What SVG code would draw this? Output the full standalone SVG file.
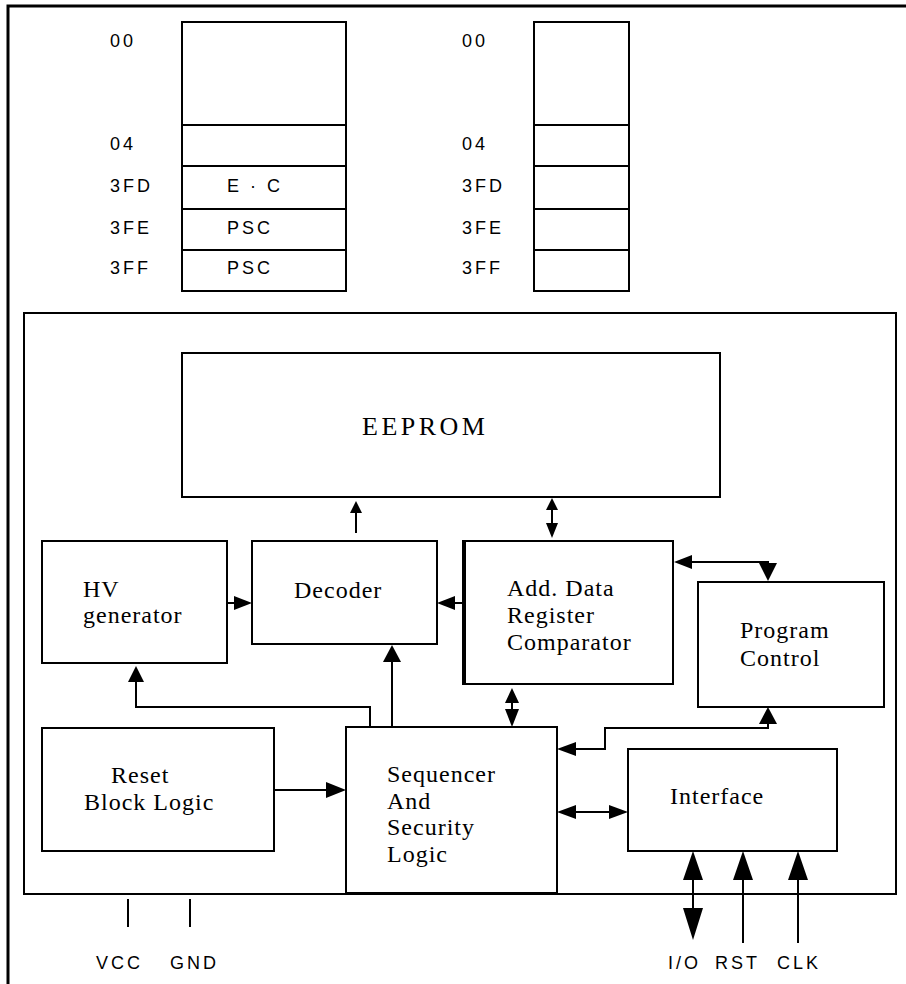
<svg xmlns="http://www.w3.org/2000/svg" width="906" height="984" viewBox="0 0 906 984">
<style>
.bg{fill:#ffffff}
.box{fill:none;stroke:#000;stroke-width:2}
.frame{fill:none;stroke:#000;stroke-width:3}
.ln{fill:none;stroke:#000;stroke-width:2}
.ah{fill:#000;stroke:none}
.sans{font-family:"Liberation Sans",Arial,sans-serif;font-size:18px;letter-spacing:3px;fill:#000}
.serif{font-family:"Liberation Serif","Times New Roman",serif;font-size:24px;letter-spacing:1px;fill:#000}
.big{font-family:"Liberation Serif","Times New Roman",serif;font-size:26px;letter-spacing:3.5px;fill:#000}
</style>
<rect class="bg" x="0" y="0" width="906" height="984"/>
<rect class="frame" x="8" y="6" width="910" height="990"/>

<g id="memory-map-left">
<rect class="box" x="182" y="22" width="164" height="269"/>
<line class="ln" x1="182" y1="125" x2="346" y2="125"/>
<line class="ln" x1="182" y1="166" x2="346" y2="166"/>
<line class="ln" x1="182" y1="209" x2="346" y2="209"/>
<line class="ln" x1="182" y1="250" x2="346" y2="250"/>
<text class="sans" x="110" y="47">00</text>
<text class="sans" x="110" y="150">04</text>
<text class="sans" x="110" y="192">3FD</text>
<text class="sans" x="110" y="234">3FE</text>
<text class="sans" x="110" y="274">3FF</text>
<text class="sans" x="227" y="192">E · C</text>
<text class="sans" x="227" y="234">PSC</text>
<text class="sans" x="227" y="274">PSC</text>
</g>

<g id="memory-map-right">
<rect class="box" x="534" y="22" width="95" height="269"/>
<line class="ln" x1="534" y1="125" x2="629" y2="125"/>
<line class="ln" x1="534" y1="166" x2="629" y2="166"/>
<line class="ln" x1="534" y1="209" x2="629" y2="209"/>
<line class="ln" x1="534" y1="250" x2="629" y2="250"/>
<text class="sans" x="462" y="47">00</text>
<text class="sans" x="462" y="150">04</text>
<text class="sans" x="462" y="192">3FD</text>
<text class="sans" x="462" y="234">3FE</text>
<text class="sans" x="462" y="274">3FF</text>
</g>

<g id="chip">
<rect class="box" x="24" y="313" width="872" height="581"/>
</g>

<g id="eeprom">
<rect class="box" x="182" y="353" width="538" height="144"/>
<text class="big" x="362" y="435">EEPROM</text>
</g>

<g id="hv-generator">
<rect class="box" x="42" y="541" width="185" height="122"/>
<text class="serif" x="83" y="597">HV</text>
<text class="serif" x="83" y="623">generator</text>
</g>

<g id="decoder">
<rect class="box" x="252" y="541" width="185" height="103"/>
<text class="serif" x="294" y="598">Decoder</text>
</g>

<g id="add-data-register">
<rect class="box" x="463" y="541" width="210" height="143"/>
<line x1="464" y1="540" x2="464" y2="685" stroke="#000" stroke-width="4"/>
<text class="serif" x="507" y="596">Add. Data</text>
<text class="serif" x="507" y="623">Register</text>
<text class="serif" x="507" y="650">Comparator</text>
</g>

<g id="program-control">
<rect class="box" x="698" y="582" width="186" height="125"/>
<text class="serif" x="740" y="638">Program</text>
<text class="serif" x="740" y="666">Control</text>
</g>

<g id="reset-block-logic">
<rect class="box" x="42" y="728" width="232" height="123"/>
<text class="serif" x="111" y="783">Reset</text>
<text class="serif" x="84" y="810">Block Logic</text>
</g>

<g id="sequencer">
<rect class="box" x="346" y="727" width="211" height="166"/>
<text class="serif" x="387" y="782">Sequencer</text>
<text class="serif" x="387" y="809">And</text>
<text class="serif" x="387" y="835">Security</text>
<text class="serif" x="387" y="862">Logic</text>
</g>

<g id="interface">
<rect class="box" x="628" y="749" width="209" height="102"/>
<text class="serif" x="670" y="804">Interface</text>
</g>

<g id="pins">
<text class="sans" x="96" y="969">VCC</text>
<text class="sans" x="170" y="969">GND</text>
<text class="sans" x="668" y="969">I/O</text>
<text class="sans" x="715" y="969">RST</text>
<text class="sans" x="777" y="969">CLK</text>
</g>

<g id="connectors">
<!-- Decoder -> EEPROM -->
<line class="ln" x1="356" y1="512" x2="356" y2="533"/>
<polygon class="ah" points="356,501 350,513 362,513"/>
<!-- EEPROM <-> Add Data -->
<line class="ln" x1="552" y1="508" x2="552" y2="526"/>
<polygon class="ah" points="552,498 546,510 558,510"/>
<polygon class="ah" points="552,538 546,523 558,523"/>
<!-- HV -> Decoder -->
<line class="ln" x1="227" y1="603" x2="236" y2="603"/>
<polygon class="ah" points="252,603 234,596 234,610"/>
<!-- Add Data -> Decoder -->
<line class="ln" x1="453" y1="603" x2="463" y2="603"/>
<polygon class="ah" points="437,603 455,596 455,610"/>
<!-- Add Data <-> Program Control -->
<polyline class="ln" points="688,562 768,562 768,566"/>
<polygon class="ah" points="674,562 692,555 692,569"/>
<polygon class="ah" points="768,581 759,563 777,563"/>
<!-- Sequencer -> HV -->
<polyline class="ln" points="370,727 370,707 136,707 136,680"/>
<polygon class="ah" points="136,666 128,682 144,682"/>
<!-- Sequencer -> Decoder -->
<line class="ln" x1="392" y1="727" x2="392" y2="660"/>
<polygon class="ah" points="392,645 383,662 401,662"/>
<!-- Add Data <-> Sequencer -->
<line class="ln" x1="512" y1="700" x2="512" y2="712"/>
<polygon class="ah" points="512,688 505,703 519,703"/>
<polygon class="ah" points="512,727 505,709 519,709"/>
<!-- Program Control -> Sequencer -->
<polyline class="ln" points="768,722 768,728 605,728 605,749 574,749"/>
<polygon class="ah" points="768,707 759,724 777,724"/>
<polygon class="ah" points="557,749 576,742 576,756"/>
<!-- Reset -> Sequencer -->
<line class="ln" x1="274" y1="790" x2="330" y2="790"/>
<polygon class="ah" points="346,790 326,782 326,798"/>
<!-- Sequencer <-> Interface -->
<line class="ln" x1="574" y1="812" x2="612" y2="812"/>
<polygon class="ah" points="557,812 576,805 576,819"/>
<polygon class="ah" points="628,812 609,805 609,819"/>
<!-- I/O -->
<line class="ln" x1="693" y1="876" x2="693" y2="912"/>
<polygon class="ah" points="693,851 683,880 703,880"/>
<polygon class="ah" points="693,940 683,908 703,908"/>
<!-- RST -->
<line class="ln" x1="743" y1="876" x2="743" y2="943"/>
<polygon class="ah" points="743,851 733,880 753,880"/>
<!-- CLK -->
<line class="ln" x1="798" y1="876" x2="798" y2="943"/>
<polygon class="ah" points="798,851 788,880 808,880"/>
<!-- VCC / GND -->
<line class="ln" x1="128" y1="899" x2="128" y2="927"/>
<line class="ln" x1="190" y1="899" x2="190" y2="927"/>
</g>
</svg>
